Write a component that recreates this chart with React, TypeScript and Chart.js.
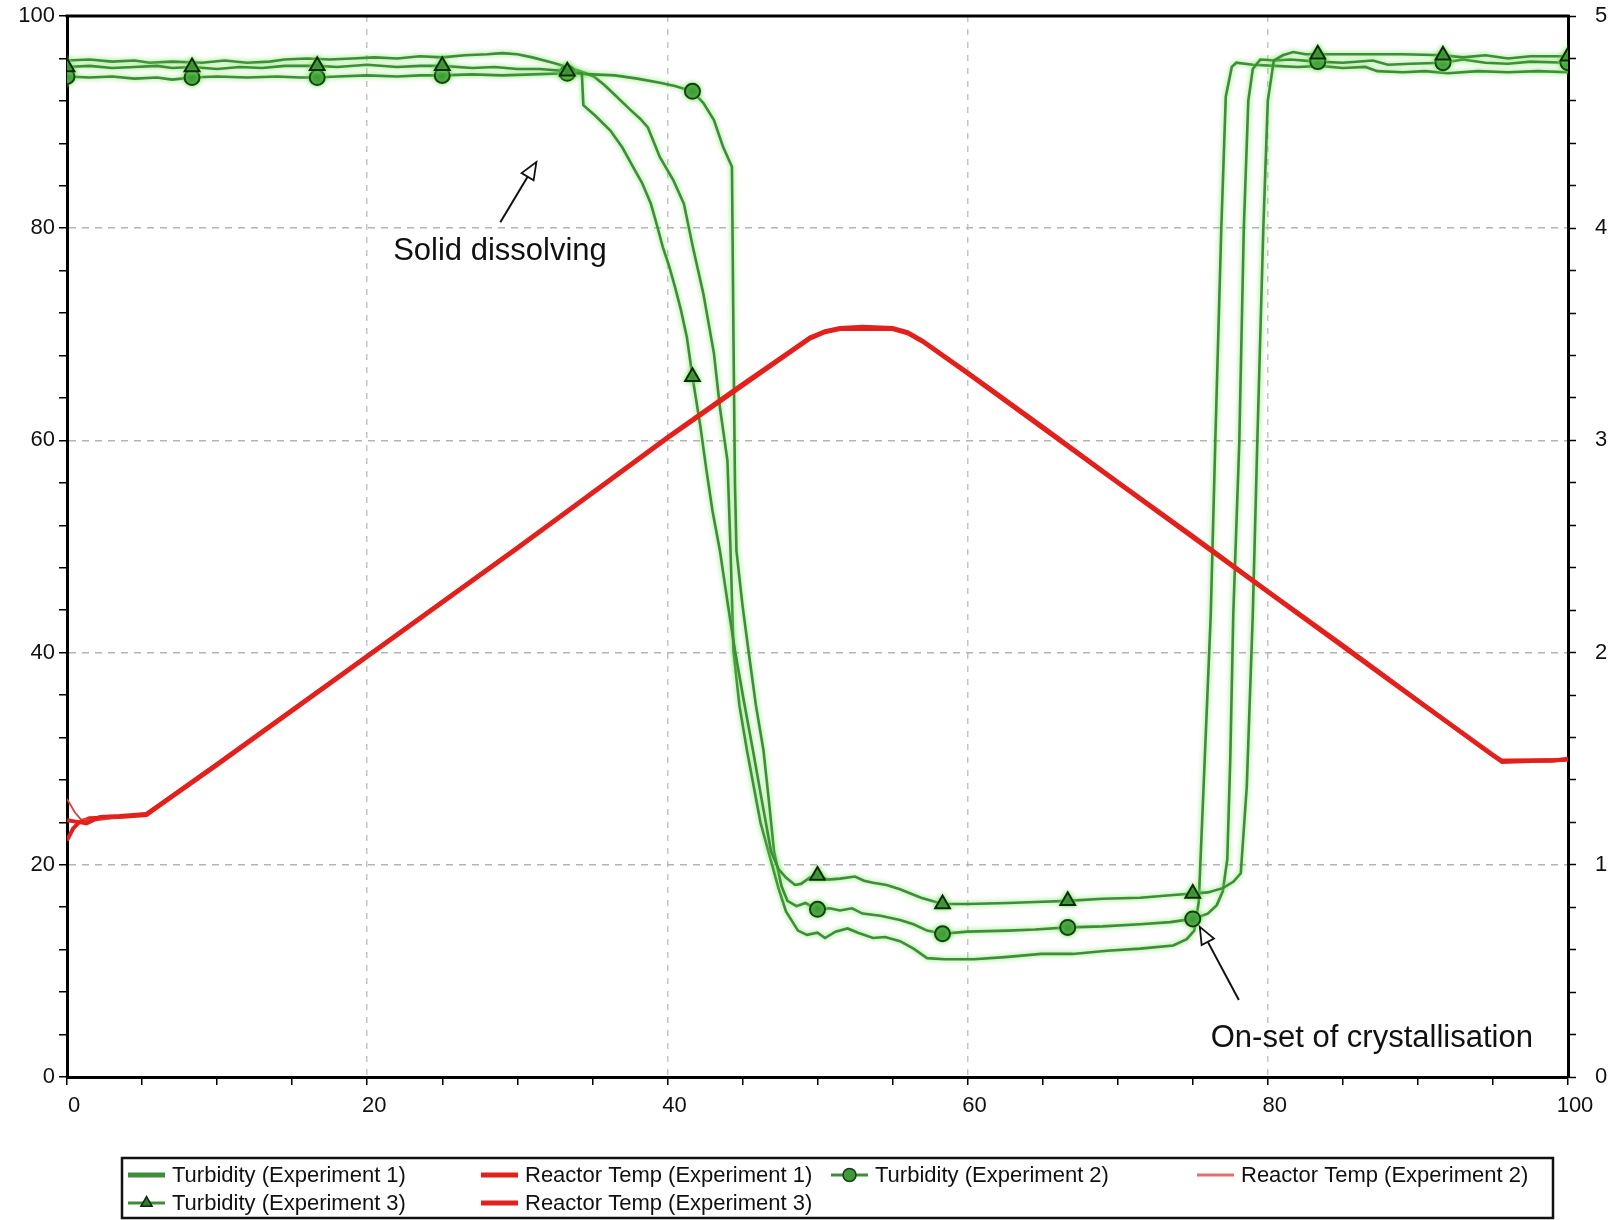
import React, { useEffect, useRef } from 'react';
import { Chart, registerables } from 'chart.js';

Chart.register(...registerables);

// ---------- data ----------
const X_TICK_LABELS = [0, 20, 40, 60, 80, 100];
const Y_LEFT_TICK_LABELS = [0, 20, 40, 60, 80, 100];
const Y_RIGHT_TICK_LABELS = [0, 1, 2, 3, 4, 5];
const MARKER_X = [0, 8.33, 16.67, 25, 33.33, 41.67, 50, 58.33, 66.67, 75, 83.33, 91.67, 100];

const SERIES_LABELS = [
  'Turbidity (Experiment 1)',
  'Reactor Temp (Experiment 1)',
  'Turbidity (Experiment 2)',
  'Reactor Temp (Experiment 2)',
  'Turbidity (Experiment 3)',
  'Reactor Temp (Experiment 3)',
];

const turbidityExp1: [number, number][] = [
  [0, 95.8], [1.5, 95.9], [3, 95.7], [4.5, 95.8], [5.5, 95.6], [7, 95.7], [9, 95.6], [10.5, 95.8],
  [12, 95.6], [13.5, 95.7], [14.5, 95.9], [16, 96.0], [17.5, 95.9], [19, 96.0], [20.5, 96.1], [22, 96.0],
  [23.5, 96.2], [25, 96.1], [26.5, 96.3], [28, 96.4], [29, 96.5], [30, 96.4], [31, 96.1], [31.8, 95.8],
  [32.6, 95.5], [33.3, 95.2], [34.2, 94.8], [35.1, 94.3], [35.8, 93.5], [36.4, 92.7], [37.5, 91.2],
  [38.2, 90.3], [38.7, 89.5], [39.5, 86.7], [40.4, 84.5], [41.1, 82.3], [41.7, 78.2], [42.4, 73.8],
  [43.1, 68.2], [43.5, 63.1], [44.0, 58.1], [44.2, 50.0], [44.4, 40.2], [44.8, 35.0], [45.3, 30.8],
  [46.2, 24.0], [46.9, 20.4], [47.4, 17.8], [47.9, 15.6], [48.7, 13.8], [49.3, 13.4], [50.0, 13.6],
  [50.5, 13.1], [51.2, 13.7], [52.0, 14.0], [52.7, 13.6], [53.7, 13.1], [54.5, 13.2], [55.5, 12.8],
  [56.4, 12.1], [57.3, 11.2], [58.5, 11.1], [60.4, 11.1], [62.5, 11.3], [64.9, 11.6], [67.0, 11.6],
  [69.3, 11.9], [71.5, 12.1], [73.7, 12.4], [74.6, 13.0], [75.1, 13.8], [75.4, 16.5], [75.8, 30.0],
  [76.2, 43.6], [76.5, 59.8], [76.9, 79.9], [77.2, 92.4], [77.6, 95.2], [77.9, 95.6], [79.0, 95.4],
  [80.5, 95.3], [82, 95.2], [83.5, 95.3], [85, 95.1], [86.5, 95.2], [87.3, 94.8], [89, 94.7],
  [90.5, 94.8], [92, 94.6], [94, 94.8], [96, 94.7], [98, 94.8], [100, 94.7],
];

const turbidityExp2: [number, number][] = [
  [0, 94.3], [1.5, 94.2], [3, 94.3], [4.5, 94.1], [6, 94.2], [7, 94.0], [8.33, 94.2], [10, 94.3],
  [12, 94.2], [14, 94.3], [15.5, 94.2], [16.67, 94.2], [18, 94.3], [20, 94.4], [22, 94.3], [23.5, 94.4],
  [25, 94.4], [27, 94.5], [29, 94.4], [31, 94.5], [33.33, 94.6], [35, 94.5], [36.5, 94.4], [38, 94.1],
  [39.5, 93.7], [40.5, 93.4], [41.67, 92.9], [42.4, 91.8], [43.1, 90.2], [43.7, 87.7], [44.3, 85.8],
  [44.4, 70.0], [44.5, 56.0], [44.6, 49.6], [45.0, 44.5], [45.4, 40.2], [45.9, 35.0], [46.4, 30.8],
  [46.8, 25.5], [47.1, 21.3], [47.6, 18.0], [48.0, 16.6], [48.6, 16.1], [49.2, 16.4], [50, 15.8],
  [50.8, 15.9], [51.5, 15.7], [52.3, 15.9], [53, 15.4], [54.2, 15.2], [55.5, 14.8], [56.4, 14.4],
  [57.3, 13.8], [58.33, 13.5], [60, 13.7], [62.7, 13.8], [64.5, 13.9], [66.67, 14.1], [69, 14.2],
  [71.5, 14.4], [73.5, 14.6], [75, 14.9], [76, 15.4], [76.6, 16.2], [77.0, 17.5], [77.3, 20.5],
  [77.5, 30.0], [77.7, 43.6], [78.1, 59.8], [78.4, 79.9], [78.7, 92.0], [79.0, 95.0], [79.5, 95.9],
  [80.5, 95.8], [81.5, 95.9], [83.33, 95.7], [85, 95.6], [87, 95.8], [88, 95.4], [89.5, 95.5],
  [91.67, 95.6], [93, 95.9], [94.5, 95.6], [96, 95.5], [97.5, 95.7], [100, 95.6],
];

const turbidityExp3: [number, number][] = [
  [0, 95.2], [1.5, 95.3], [3, 95.1], [4.5, 95.2], [6, 95.3], [7, 95.1], [8.33, 95.2], [10, 95.0],
  [11.5, 95.2], [13, 95.1], [14.5, 95.3], [16.67, 95.3], [18, 95.2], [20, 95.4], [22, 95.2], [23.5, 95.3],
  [25, 95.3], [27, 95.1], [28.5, 95.2], [30, 95.0], [31.5, 95.0], [33.33, 94.8], [34.3, 94.6],
  [34.4, 91.6], [35.2, 90.6], [36.2, 89.2], [37.0, 87.6], [37.7, 85.8], [38.3, 84.3], [38.9, 82.3],
  [39.3, 80.3], [39.7, 78.2], [40.1, 76.5], [40.5, 74.5], [40.9, 72.3], [41.3, 69.7], [41.67, 66.0],
  [42.2, 61.3], [42.6, 57.2], [43.0, 53.4], [43.5, 49.6], [44.0, 44.8], [44.5, 40.2], [45.1, 35.4],
  [45.7, 30.8], [46.3, 26.0], [46.9, 21.3], [47.4, 19.6], [47.9, 18.8], [48.5, 18.1], [48.9, 18.2],
  [49.5, 18.8], [50, 19.0], [50.7, 18.6], [51.5, 18.7], [52.5, 18.9], [53.1, 18.5], [53.7, 18.3],
  [54.6, 18.1], [55.5, 17.7], [56.2, 17.3], [56.9, 16.9], [58.33, 16.3], [60, 16.3], [62.7, 16.4],
  [64.5, 16.5], [66.67, 16.6], [69, 16.8], [71.5, 16.9], [73.3, 17.1], [75, 17.3], [76, 17.4],
  [77, 17.8], [77.7, 18.4], [78.2, 19.2], [78.6, 27.4], [79.0, 43.6], [79.3, 59.8], [79.7, 79.9],
  [80.0, 92.0], [80.4, 95.8], [81.0, 96.3], [81.7, 96.6], [82.5, 96.4], [83.33, 96.4], [85, 96.4],
  [87, 96.4], [89, 96.4], [91.67, 96.3], [93, 96.1], [94.5, 96.3], [96, 96.0], [97.5, 96.2], [100, 96.2],
];

const reactorTempExp1: [number, number][] = [
  [0, 24.2], [0.9, 24.0], [1.3, 23.9], [2.2, 24.5], [3.5, 24.6], [5.3, 24.8], [6.2, 25.7], [10, 29.5],
  [20, 39.7], [30, 49.9], [40, 60.3], [45, 65.3], [49.5, 69.7], [50.5, 70.3], [51.5, 70.6], [53, 70.7],
  [55, 70.6], [56, 70.2], [57, 69.4], [60, 66.4], [65, 61.3], [70, 56.1], [75, 51.0], [80, 45.8],
  [85, 40.7], [90, 35.5], [95, 30.3], [95.6, 29.8], [99, 29.8], [100, 30.0],
];

const reactorTempExp2: [number, number][] = [
  [0, 26.2], [0.5, 25.0], [0.9, 24.3], [2, 24.2], [3.5, 24.5], [5.3, 24.9], [6.2, 25.8], [10, 29.6],
  [20, 39.8], [30, 50.0], [40, 60.3], [49.5, 69.8], [50.5, 70.3], [51.5, 70.6], [55, 70.6], [56, 70.2],
  [57, 69.4], [60, 66.5], [70, 56.2], [80, 45.9], [90, 35.6], [95.6, 29.9], [100, 30.0],
];

const reactorTempExp3: [number, number][] = [
  [0, 22.3], [0.4, 23.4], [0.8, 24.0], [1.5, 24.4], [3.5, 24.5], [5.3, 24.7], [6.2, 25.6], [10, 29.4],
  [20, 39.6], [30, 49.8], [40, 60.2], [49.5, 69.6], [50.5, 70.2], [51.5, 70.5], [55, 70.5], [56, 70.1],
  [57, 69.3], [60, 66.3], [70, 56.0], [80, 45.7], [90, 35.4], [95.6, 29.7], [100, 29.9],
];

// annotation texts, anchored in data units
const ANNOTATIONS = [
  { text: 'Solid dissolving', x: 21.73, y: 77.0, from: [28.87, 80.57], to: [31.27, 86.23] },
  { text: 'On-set of crystallisation', x: 76.2, y: 2.85, from: [78.07, 7.26], to: [75.47, 14.15] },
];

const FONT = "'Liberation Sans', Arial, Helvetica, sans-serif";

// ---------- plugins ----------
const glowPlugin = {
  id: 'glow',
  beforeDatasetDraw(chart: any, args: any) {
    const ds = chart.data.datasets[args.index];
    if (ds.glow) {
      const ctx = chart.ctx;
      ctx.save();
      ctx.shadowColor = 'rgba(110,225,80,0.9)';
      ctx.shadowBlur = 5;
    }
  },
  afterDatasetDraw(chart: any, args: any) {
    const ds = chart.data.datasets[args.index];
    if (ds.glow) chart.ctx.restore();
  },
};

const framePlugin = {
  id: 'frameTop',
  afterDatasetsDraw(chart: any) {
    const { ctx, chartArea } = chart;
    ctx.save();
    ctx.strokeStyle = '#000';
    ctx.lineWidth = 3;
    ctx.beginPath();
    ctx.moveTo(chartArea.left - 1.5, chartArea.top);
    ctx.lineTo(chartArea.right + 1.5, chartArea.top);
    ctx.stroke();
    ctx.restore();
  },
};

const annotationPlugin = {
  id: 'notes',
  afterDatasetsDraw(chart: any) {
    const { ctx } = chart;
    const xs = chart.scales.x;
    const ys = chart.scales.y;
    ctx.save();
    ANNOTATIONS.forEach((a) => {
      ctx.fillStyle = '#111';
      ctx.font = `31px ${FONT}`;
      ctx.textBaseline = 'alphabetic';
      ctx.textAlign = 'left';
      ctx.fillText(a.text, xs.getPixelForValue(a.x), ys.getPixelForValue(a.y));
      const sx = xs.getPixelForValue(a.from[0]);
      const sy = ys.getPixelForValue(a.from[1]);
      const tx = xs.getPixelForValue(a.to[0]);
      const ty = ys.getPixelForValue(a.to[1]);
      const len = Math.hypot(tx - sx, ty - sy);
      const ux = (tx - sx) / len;
      const uy = (ty - sy) / len;
      const nx = -uy;
      const ny = ux;
      const hl = 17;
      const hw = 7;
      const bx = tx - ux * hl;
      const by = ty - uy * hl;
      ctx.strokeStyle = '#111';
      ctx.lineWidth = 2;
      ctx.beginPath();
      ctx.moveTo(sx, sy);
      ctx.lineTo(bx, by);
      ctx.stroke();
      ctx.beginPath();
      ctx.moveTo(tx, ty);
      ctx.lineTo(bx + nx * hw, by + ny * hw);
      ctx.lineTo(bx - nx * hw, by - ny * hw);
      ctx.closePath();
      ctx.fillStyle = '#fff';
      ctx.fill();
      ctx.lineWidth = 1.8;
      ctx.stroke();
    });
    ctx.restore();
  },
};

function drawMarker(ctx: CanvasRenderingContext2D, style: string, cx: number, cy: number, r: number) {
  ctx.beginPath();
  if (style === 'triangle') {
    ctx.moveTo(cx, cy - r);
    ctx.lineTo(cx - r * 0.866, cy + r * 0.5);
    ctx.lineTo(cx + r * 0.866, cy + r * 0.5);
    ctx.closePath();
  } else {
    ctx.arc(cx, cy, r, 0, Math.PI * 2);
  }
  ctx.fill();
  ctx.stroke();
}

const legendPlugin = {
  id: 'boxLegend',
  afterDraw(chart: any) {
    const { ctx } = chart;
    const cols = [128, 481, 831, 1197];
    const rows = [1175, 1203];
    ctx.save();
    ctx.strokeStyle = '#111';
    ctx.lineWidth = 2.5;
    ctx.strokeRect(122, 1158, 1431, 60);
    chart.data.datasets.forEach((ds: any, i: number) => {
      const sx = cols[i % 4];
      const sy = rows[Math.floor(i / 4)];
      ctx.strokeStyle = ds.legendColor || ds.borderColor;
      ctx.lineWidth = ds.legendWidth;
      ctx.beginPath();
      ctx.moveTo(sx, sy);
      ctx.lineTo(sx + 37, sy);
      ctx.stroke();
      if (ds.marker) {
        ctx.fillStyle = ds.pointBackgroundColor;
        ctx.strokeStyle = ds.pointBorderColor;
        ctx.lineWidth = 1.5;
        drawMarker(ctx, ds.pointStyle, sx + 18.5, sy, 6.5);
      }
      ctx.fillStyle = '#111';
      ctx.font = `22px ${FONT}`;
      ctx.textBaseline = 'middle';
      ctx.textAlign = 'left';
      ctx.fillText(ds.label, sx + 44, sy + 1);
    });
    ctx.restore();
  },
};

// ---------- component ----------
export default function App() {
  const canvasRef = useRef<HTMLCanvasElement>(null);

  useEffect(() => {
    const canvas = canvasRef.current;
    if (!canvas) return;
    Chart.defaults.font.family = FONT;

    const toXY = (arr: [number, number][]) => arr.map(([x, y]) => ({ x, y }));
    const isMarker = (v: number) => MARKER_X.some((m) => Math.abs(m - v) < 0.02);
    const markerRadius = (r: number) => (c: any) => (c.raw && isMarker(c.raw.x) ? r : 0);

    const green = '#3f8c3a';
    const red = '#e3201b';

    const datasets: any[] = [
      {
        label: SERIES_LABELS[0], data: toXY(turbidityExp1), borderColor: green, borderWidth: 2.6,
        pointRadius: 0, glow: true, legendWidth: 5, order: 3,
      },
      {
        label: SERIES_LABELS[1], data: toXY(reactorTempExp1), borderColor: red, borderWidth: 4,
        pointRadius: 0, legendWidth: 5, order: 0,
      },
      {
        label: SERIES_LABELS[2], data: toXY(turbidityExp2), borderColor: green, borderWidth: 2.6,
        pointRadius: markerRadius(7.5), pointStyle: 'circle', pointBackgroundColor: '#3f9b3a',
        pointBorderColor: '#183d18', pointBorderWidth: 2, glow: true, marker: true, legendWidth: 3, order: 2,
      },
      {
        label: SERIES_LABELS[3], data: toXY(reactorTempExp2), borderColor: '#d8423d', borderWidth: 1.8,
        pointRadius: 0, legendWidth: 3, legendColor: '#e2706c', order: 0,
      },
      {
        label: SERIES_LABELS[4], data: toXY(turbidityExp3), borderColor: green, borderWidth: 2.6,
        pointRadius: markerRadius(8.5), pointStyle: 'triangle', pointBackgroundColor: '#2f7a2c',
        pointBorderColor: '#0e2a0e', pointBorderWidth: 2, glow: true, marker: true, legendWidth: 3, order: 1,
      },
      {
        label: SERIES_LABELS[5], data: toXY(reactorTempExp3), borderColor: red, borderWidth: 4,
        pointRadius: 0, legendWidth: 5, order: 0,
      },
    ];

    const majorOnly = (labels: number[], color: string) => (c: any) => {
      const v = c.tick ? c.tick.value : NaN;
      if (labels.includes(v) && v !== 0 && v !== 100) return color;
      return 'rgba(0,0,0,0)';
    };

    const fitVertical = (w: number) => (s: any) => {
      s.width = w;
      s.paddingTop = 0;
      s.paddingBottom = 0;
    };

    const chart = new Chart(canvas, {
      type: 'line',
      data: { datasets },
      options: {
        responsive: false,
        animation: false,
        devicePixelRatio: 1,
        layout: { padding: { top: 16, bottom: 100, left: 0, right: 0 } },
        elements: { line: { tension: 0 }, point: { hoverRadius: 0, hitRadius: 0 } },
        plugins: { legend: { display: false }, tooltip: { enabled: false } },
        scales: {
          x: {
            type: 'linear',
            position: 'bottom',
            min: 0,
            max: 100,
            ticks: {
              stepSize: 5,
              autoSkip: false,
              maxRotation: 0,
              labelOffset: 7,
              padding: 8,
              color: '#111',
              font: { size: 22 },
              callback: (v: any) => (X_TICK_LABELS.includes(Number(v)) ? String(v) : ''),
            },
            grid: {
              color: majorOnly(X_TICK_LABELS, '#c4c4c4'),
              lineWidth: 1.5,
              tickColor: '#000',
              tickLength: 8,
              tickWidth: 1.5,
            },
            border: { color: '#000', width: 3, dash: [6, 7] },
            afterFit: (s: any) => {
              s.height = 43;
              s.paddingLeft = 0;
              s.paddingRight = 0;
            },
          },
          y: {
            type: 'linear',
            position: 'left',
            min: 0,
            max: 100,
            ticks: {
              stepSize: 4,
              autoSkip: false,
              padding: 4,
              color: '#111',
              font: { size: 22 },
              callback: (v: any) => (Y_LEFT_TICK_LABELS.includes(Number(v)) ? String(v) : ''),
            },
            grid: {
              color: majorOnly(Y_LEFT_TICK_LABELS, '#b4b4b4'),
              lineWidth: 1.5,
              tickColor: '#000',
              tickLength: 8,
              tickWidth: 1.5,
            },
            border: { color: '#000', width: 3, dash: [7, 6] },
            afterFit: fitVertical(67),
          },
          y2: {
            type: 'linear',
            position: 'right',
            min: 0,
            max: 5,
            ticks: {
              stepSize: 0.2,
              autoSkip: false,
              padding: 19,
              color: '#111',
              font: { size: 22 },
              callback: (v: any) => {
                const n = Number(v);
                const r = Math.round(n);
                return Math.abs(n - r) < 1e-6 && Y_RIGHT_TICK_LABELS.includes(r) ? String(r) : '';
              },
            },
            grid: {
              drawOnChartArea: false,
              color: '#000',
              tickColor: '#000',
              tickLength: 8,
              tickWidth: 1.5,
            },
            border: { color: '#000', width: 3 },
            afterFit: fitVertical(50),
          },
        },
      } as any,
      plugins: [glowPlugin, framePlugin, annotationPlugin, legendPlugin],
    });

    return () => chart.destroy();
  }, []);

  return (
    <div style={{ position: 'absolute', left: 0, top: 0, width: 1618, height: 1220, background: '#fff' }}>
      <canvas ref={canvasRef} width={1618} height={1220} style={{ display: 'block', width: 1618, height: 1220 }} />
    </div>
  );
}
